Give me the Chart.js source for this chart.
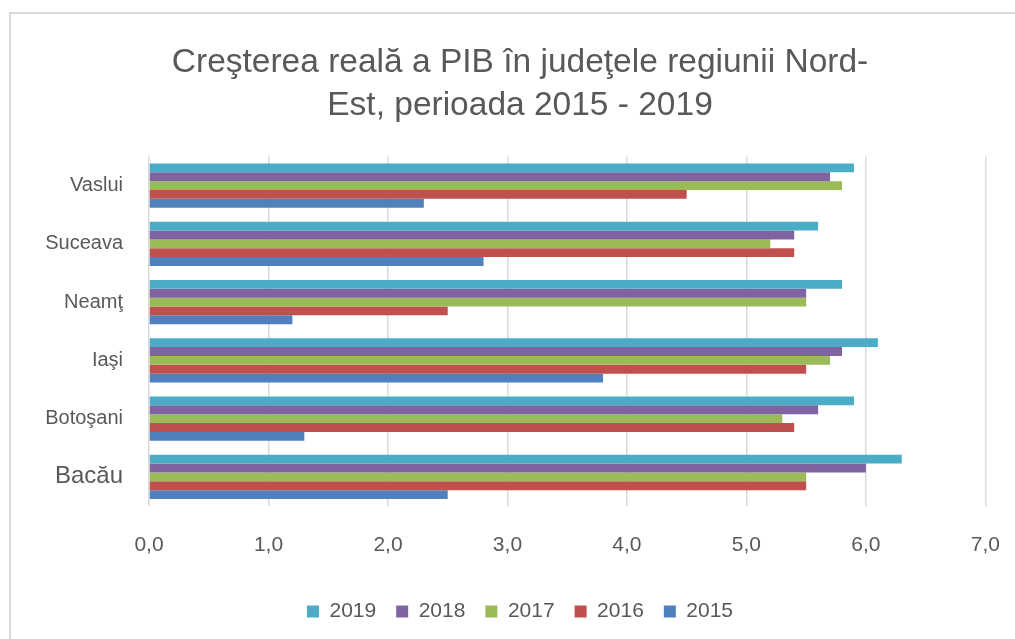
<!DOCTYPE html>
<html>
<head>
<meta charset="utf-8">
<script src="https://cdn.jsdelivr.net/npm/chart.js@4/dist/chart.umd.min.js"></script>
<style>
    html, body { margin: 0; padding: 0; background: #fff; overflow: hidden; }
    #frame {
        position: absolute; left: 9px; top: 12px; width: 1020px; height: 640px;
        border: 2px solid #d9d9d9;
    }
    #wrap { position: absolute; left: 0; top: 0; width: 1015px; height: 639px; }
</style>
</head>
<body>
<div id="frame"></div>
<div id="wrap"><canvas id="pibChart" width="1015" height="639"></canvas></div>
<script>
// Counties (top to bottom)
const counties = ['Vaslui', 'Suceava', 'Neamţ', 'Iaşi', 'Botoşani', 'Bacău'];

// Real GDP growth per year, %
const years = ['2019', '2018', '2017', '2016', '2015'];
const values2019 = [5.9, 5.6, 5.8, 6.1, 5.9, 6.3];
const values2018 = [5.7, 5.4, 5.5, 5.8, 5.6, 6.0];
const values2017 = [5.8, 5.2, 5.5, 5.7, 5.3, 5.5];
const values2016 = [4.5, 5.4, 2.5, 5.5, 5.4, 5.5];
const values2015 = [2.3, 2.8, 1.2, 3.8, 1.3, 2.5];

const xTicks = [0, 1, 2, 3, 4, 5, 6, 7];

const seriesValues = [values2019, values2018, values2017, values2016, values2015];
const seriesColors = ['#4BACC6', '#8064A2', '#9BBB59', '#C0504D', '#4F81BD'];

const textColor = '#595959';
const fontFamily = "'Liberation Sans', Arial, sans-serif";

document.addEventListener('DOMContentLoaded', function() {
    const ctx = document.getElementById('pibChart').getContext('2d');

    // one dataset per year
    const datasets = years.map(function(year, i) {
        return {
            label: year,
            data: seriesValues[i],
            backgroundColor: seriesColors[i],
            borderWidth: 0,
            categoryPercentage: 0.76,
            barPercentage: 1.0
        };
    });

    new Chart(ctx, {
        type: 'bar',
        data: { labels: counties, datasets: datasets },
        options: {
            indexAxis: 'y',
            responsive: false,
            animation: false,
            layout: { padding: { left: 41, right: 16, top: 0, bottom: 7 } },
            plugins: {
                title: {
                    display: true,
                    text: ['Creşterea reală a PIB în judeţele regiunii Nord-', 'Est, perioada 2015 - 2019'],
                    color: textColor,
                    font: { family: fontFamily, size: 33.5, weight: 'normal', lineHeight: 1.29 },
                    padding: { top: 41, bottom: 29 }
                },
                legend: {
                    position: 'bottom',
                    labels: {
                        color: textColor,
                        font: { family: fontFamily, size: 21 },
                        boxWidth: 12,
                        boxHeight: 12,
                        padding: 20
                    }
                },
                tooltip: { enabled: false }
            },
            scales: {
                x: {
                    min: 0,
                    max: 7,
                    afterBuildTicks: function(scale) {
                        scale.ticks = xTicks.map(v => ({ value: v }));
                    },
                    afterFit: function(scale) {
                        scale.height = 75;
                    },
                    // invisible tick marks push the labels down without
                    // adding right-side padding to the axis
                    grid: {
                        color: '#d9d9d9', lineWidth: 1.5,
                        drawTicks: true, tickLength: 12, tickColor: 'rgba(0,0,0,0)'
                    },
                    border: { display: false },
                    ticks: {
                        color: textColor,
                        font: { family: fontFamily, size: 21 },
                        padding: 15,
                        callback: function(v) {
                            return Number(v).toFixed(1).replace('.', ',');
                        }
                    }
                },
                y: {
                    afterFit: function(scale) {
                        scale.width = 108;
                    },
                    grid: { display: false, drawTicks: false },
                    border: { display: false },
                    ticks: {
                        color: textColor,
                        padding: 26,
                        font: function(c) {
                            // the last label is set larger in the original
                            return { family: fontFamily, size: c.index === 5 ? 24 : 20 };
                        }
                    }
                }
            }
        }
    });
});
</script>
</body>
</html>
